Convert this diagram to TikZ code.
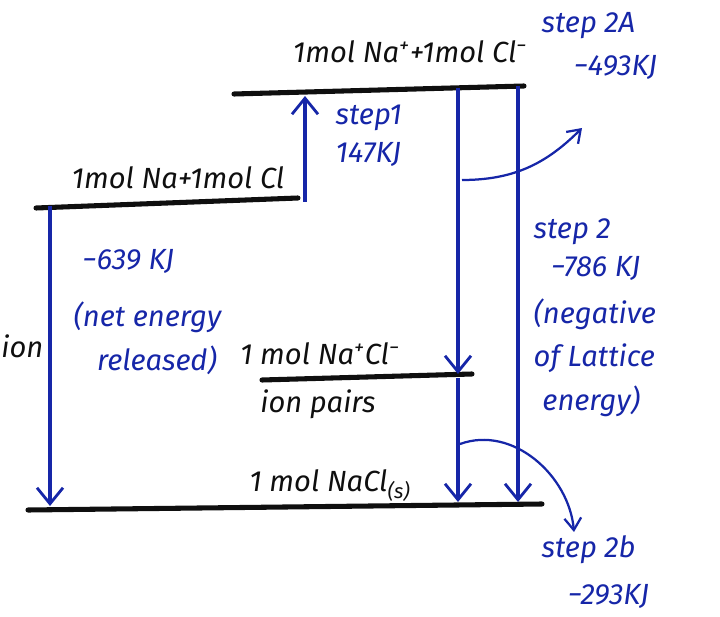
\documentclass[tikz,border=0pt]{standalone}
\usepackage{fontspec}
\setmainfont{Fira Sans}
\usetikzlibrary{arrows.meta,positioning}
\definecolor{InkBlue}{RGB}{22,38,168}
\definecolor{InkBlack}{RGB}{15,15,15}

\begin{document}
\begin{tikzpicture}[
        level/.style={draw=InkBlack, line width=3.6pt, line cap=round},
        lvltext/.style={text=InkBlack, font=\huge\itshape, inner sep=1pt},
        steptext/.style={text=InkBlue, font=\huge\itshape, align=left, inner sep=1pt},
        arrow/.style={-{Straight Barb[length=4mm,width=6.5mm,line width=2pt]}, line width=3pt, draw=InkBlue},
        curve/.style={-{Straight Barb[length=3mm,width=4.2mm]}, line width=1.6pt, draw=InkBlue}
      ]
        \useasboundingbox (0,0) rectangle (18,15.4);
        % energy levels
        \coordinate (topA) at (5.85,13.05);
        \coordinate (topB) at (13.1,13.25);
        \coordinate (midA) at (0.9,10.2);
        \coordinate (midB) at (7.45,10.45);
        \coordinate (ionA) at (6.55,5.9);
        \coordinate (ionB) at (11.8,6.05);
        \coordinate (botA) at (0.7,2.65);
        \coordinate (botB) at (13.55,2.8);
        \draw[level] (topA) -- (topB);
        \draw[level] (midA) -- (midB);
        \draw[level] (ionA) -- (ionB);
        \draw[level] (botA) -- (botB);
        % level labels
        \node[lvltext] (ions) at (10.25,14.1) {1mol Na\textsuperscript{+}+1mol Cl\textsuperscript{−}};
        \node[lvltext] (atoms) at (4.45,10.95) {1mol Na+1mol Cl};
        \node[lvltext] (pair) at (8.0,6.55) {1 mol Na\textsuperscript{+}Cl\textsuperscript{−}};
        \node[lvltext] (pairs) at (7.95,5.3) {ion pairs};
        \node[lvltext] (solid) at (8.25,3.25) {1 mol NaCl\textsubscript{(s)}};
        \node[lvltext, anchor=west, inner sep=0pt] (form) at (0.03,6.75) {ion};
        % step labels
        \node[steptext, anchor=west] (s1) at (8.35,12.0) {step1\\[2pt]147KJ};
        \node[steptext, anchor=west] (s2a) at (13.5,14.25) {step 2A\\[6pt]\hspace*{1.1em}−493KJ};
        \node[steptext, anchor=west] (net) at (1.8,7.6) {\hspace*{0.3em}−639 KJ\\[16pt](net energy\\[6pt]\hspace*{0.8em}released)};
        \node[steptext, anchor=west] (s2) at (13.3,7.45) {step 2\\[2pt]\hspace*{0.6em}−786 KJ\\[8pt](negative\\[6pt]of Lattice\\[6pt]\hspace*{0.3em}energy)};
        \node[steptext, anchor=west] (s2b) at (13.5,1.1) {step 2b\\[8pt]\hspace*{0.9em}−293KJ};
        % arrows
        \coordinate (upS) at (7.625,10.35);
        \coordinate (upE) at (7.625,13.0);
        \draw[arrow] (upS) -- (upE);
        \coordinate (lS) at (1.25,10.25);
        \coordinate (lE) at (1.25,2.75);
        \draw[arrow] (lS) -- (lE);
        \coordinate (mS) at (11.45,13.2);
        \coordinate (mM) at (11.45,6.05);
        \coordinate (mN) at (11.45,5.95);
        \coordinate (mE) at (11.45,2.85);
        \draw[arrow] (mS) -- (mM);
        \draw[arrow] (mN) -- (mE);
        \coordinate (rS) at (12.95,13.25);
        \coordinate (rE) at (12.95,2.85);
        \draw[arrow] (rS) -- (rE);
        \coordinate (c2aS) at (11.55,10.9);
        \coordinate (c2aE) at (14.55,12.2);
        \draw[curve] (c2aS) to[out=0, in=-135] (c2aE);
        \coordinate (c2bS) at (11.5,4.3);
        \coordinate (c2bE) at (14.35,2.1);
        \draw[curve] (c2bS) to[out=20, in=95] (c2bE);
      \end{tikzpicture}
\end{document}
